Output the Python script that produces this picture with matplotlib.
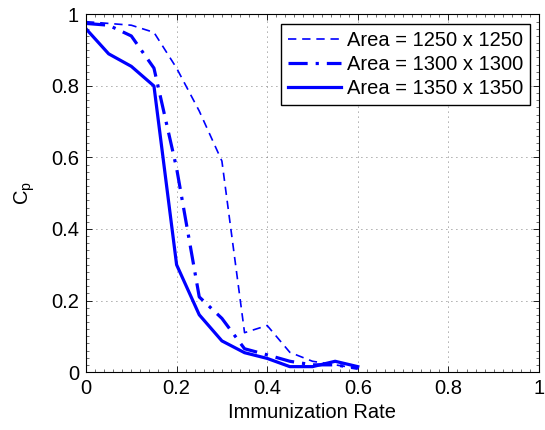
import matplotlib
matplotlib.use("Agg")
import matplotlib.pyplot as plt
from matplotlib.ticker import MultipleLocator

plt.rcParams['font.family'] = ['Liberation Sans', 'DejaVu Sans']

# Datos
tasa = [0, 0.05, 0.1, 0.15, 0.2, 0.25, 0.3, 0.35, 0.4, 0.45, 0.5, 0.55, 0.6]
cp_1250 = [0.98, 0.975, 0.97, 0.95, 0.85, 0.73, 0.59, 0.11, 0.13, 0.055, 0.03, 0.02, 0.01]
cp_1300 = [0.975, 0.97, 0.94, 0.85, 0.57, 0.21, 0.15, 0.065, 0.048, 0.03, 0.02, 0.02, 0.01]
cp_1350 = [0.96, 0.89, 0.855, 0.80, 0.30, 0.16, 0.087, 0.054, 0.038, 0.015, 0.015, 0.03, 0.015]
etiquetas = ["Area = 1250 x 1250", "Area = 1300 x 1300", "Area = 1350 x 1350"]
marcas = [0, 0.2, 0.4, 0.6, 0.8, 1]
textos_marcas = ["0", "0.2", "0.4", "0.6", "0.8", "1"]

fig = plt.figure(figsize=(5.45, 4.3), dpi=100)
ax = fig.add_axes([86 / 545, (430 - 372) / 430, (539 - 86) / 545, (372 - 14.5) / 430])

ax.plot(tasa, cp_1250, color="#0000ff", linestyle=(0, (5, 3.5)), linewidth=1.2, label=etiquetas[0])
ax.plot(tasa, cp_1300, color="#0000ff", linestyle=(0, (6, 2.5, 1, 2.5)), linewidth=2.3, label=etiquetas[1])
ax.plot(tasa, cp_1350, color="#0000ff", linestyle="-", linewidth=2.3, label=etiquetas[2])

ax.set_xlim(0, 1)
ax.set_ylim(0, 1)
ax.set_xticks(marcas, textos_marcas)
ax.set_yticks(marcas, textos_marcas)
ax.xaxis.set_minor_locator(MultipleLocator(0.02))
ax.yaxis.set_minor_locator(MultipleLocator(0.02))
ax.tick_params(which="both", direction="in", top=True, right=True, labelsize=14.5, pad=5)
ax.tick_params(which="major", length=4, width=0.6)
ax.tick_params(which="minor", length=2, width=0.4)
ax.grid(True, linestyle=(0, (1, 5)), color="#555555", linewidth=0.6)
for s in ax.spines.values():
    s.set_linewidth(0.8)

ax.set_xlabel("Immunization Rate", fontsize=14.5, labelpad=4)
ax.set_ylabel(r"$\mathregular{C_p}$", fontsize=14.5, labelpad=10)

leg = ax.legend(loc="upper right", fontsize=14.5, fancybox=False, framealpha=1,
                edgecolor="black", handlelength=2.6, handletextpad=0.3,
                borderpad=0.35, labelspacing=0.25, borderaxespad=0.45)
leg.get_frame().set_linewidth(1.0)

fig.savefig("out.png", dpi=100)
